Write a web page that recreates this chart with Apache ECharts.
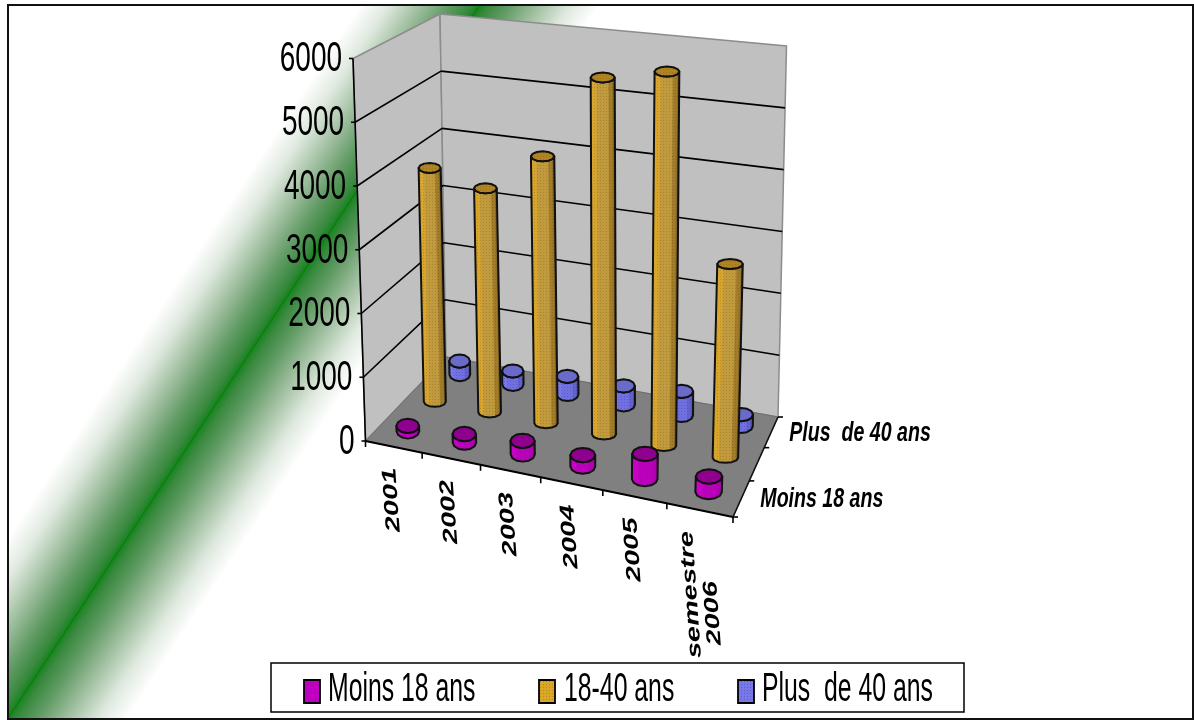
<!DOCTYPE html>
<html>
<head>
<meta charset="utf-8">
<title>Chart</title>
<style>
html,body{margin:0;padding:0;background:#fff;}
#main{width:1194px;height:720px;}
</style>
<script src="https://cdn.jsdelivr.net/npm/echarts@6/dist/echarts.min.js"></script>
</head>
<body>
<div id="main"></div>
<script>
var categories = [['2001'], ['2002'], ['2003'], ['2004'], ['2005'], ['semestre', '2006']];
var yTicks = [0, 1000, 2000, 3000, 4000, 5000, 6000];
var moins18 = [85, 135, 210, 175, 380, 230];
var age1840 = [3850, 3640, 4280, 5650, 5850, 2990];
var plus40 = [230, 225, 300, 310, 390, 190];
var seriesNames = ['Moins 18 ans', '18-40 ans', 'Plus  de 40 ans'];

var FONT = '"Liberation Sans", Arial, sans-serif';

// hidden cartesian box: its axes give the scale, project() puts it in perspective
var box = {left: 100, top: 100, width: 600, height: 400};

// corners of the chart cube on screen: floor and top, front then back
var floorQuad = [[365.5, 441], [733, 517], [778, 417], [446, 357]];
var topQuad = [[353, 58.5], [750, 104], [786.5, 46], [440, 14]];

function homography(q) {
    var dx1 = q[1][0] - q[2][0], dx2 = q[3][0] - q[2][0], sx = q[0][0] - q[1][0] + q[2][0] - q[3][0];
    var dy1 = q[1][1] - q[2][1], dy2 = q[3][1] - q[2][1], sy = q[0][1] - q[1][1] + q[2][1] - q[3][1];
    var den = dx1 * dy2 - dx2 * dy1;
    var g = (sx * dy2 - dx2 * sy) / den, h = (dx1 * sy - sx * dy1) / den;
    return function (u, v) {
        var d = g * u + h * v + 1;
        return [
            ((q[1][0] - q[0][0] + g * q[1][0]) * u + (q[3][0] - q[0][0] + h * q[3][0]) * v + q[0][0]) / d,
            ((q[1][1] - q[0][1] + g * q[1][1]) * u + (q[3][1] - q[0][1] + h * q[3][1]) * v + q[0][1]) / d
        ];
    };
}
var floorH = homography(floorQuad), topH = homography(topQuad);

function project(u, v, w) {
    var a = floorH(u, v), b = topH(u, v);
    return [a[0] + (b[0] - a[0]) * w, a[1] + (b[1] - a[1]) * w];
}
function boxU(pt) { return (pt[0] - box.left) / box.width; }
function boxW(pt) { return (box.top + box.height - pt[1]) / box.height; }

// small dither tile, the bars in the picture have this dotted fill
function dots(base, dot) {
    var c = document.createElement('canvas');
    c.width = 3;
    c.height = 3;
    var ctx = c.getContext('2d');
    ctx.fillStyle = base;
    ctx.fillRect(0, 0, 3, 3);
    ctx.fillStyle = dot;
    ctx.fillRect(0, 0, 1, 1);
    return {image: c, repeat: 'repeat'};
}

var looks = [
    {
        sides: ['#c400c4', '#c800c8', '#bb00bb', '#b000b0', '#9c009c'],
        top: '#8f008f', legend: '#c000c0', depth: 1 / 6, ru: 0.034, ry: 7.2
    },
    {
        sides: [dots('#dba826', '#f0c838'), dots('#d9a52a', '#b98a20'), dots('#c09a3c', '#a8842c'),
            dots('#a27c28', '#8c6a20'), dots('#7a5c20', '#6a501c')],
        top: dots('#b08424', '#9c7420'), legend: dots('#dba826', '#b98a20'), depth: 0.5, ru: 0.034, ry: 5
    },
    {
        sides: [dots('#7c7cec', '#6464d4'), dots('#7878e8', '#6060d0'), dots('#7070e0', '#5c5cc8'),
            dots('#6262cc', '#5050b8'), dots('#5050ac', '#444498')],
        top: '#6a6ac8', legend: dots('#7878e8', '#5c5cc8'), depth: 5 / 6, ru: 0.033, ry: 6.6
    }
];

function poly(points, style) {
    return {type: 'polygon', shape: {points: points}, style: style};
}
function line(a, b, color, width) {
    return {
        type: 'line',
        shape: {x1: a[0], y1: a[1], x2: b[0], y2: b[1]},
        style: {stroke: color, lineWidth: width}
    };
}

function renderWalls(params, api) {
    var kids = [];
    var fl = project(0, 0, 0), fr = project(1, 0, 0), br = project(1, 1, 0), bl = project(0, 1, 0);
    var flT = project(0, 0, 1), brT = project(1, 1, 1), blT = project(0, 1, 1);
    var grey = {stroke: '#8c8c8c', lineWidth: 1.5};
    kids.push(poly([fl, flT, blT, bl], {fill: '#c0c0c0', stroke: grey.stroke, lineWidth: grey.lineWidth}));
    kids.push(poly([bl, blT, brT, br], {fill: '#c0c0c0', stroke: grey.stroke, lineWidth: grey.lineWidth}));
    kids.push(poly([fl, fr, br, bl], {fill: '#808080', stroke: '#6e6e6e', lineWidth: 1}));

    yTicks.forEach(function (t) {
        var w = boxW(api.coord([0, t]));
        var a = project(0, 0, w), b = project(0, 1, w), c = project(1, 1, w);
        if (t > 0 && t < 6000) {
            kids.push(line(a, b, '#000', 1.6));
            kids.push(line(b, c, '#000', 1.6));
        }
        kids.push(line([a[0] - 4, a[1]], a, '#000', 1.6));
        kids.push({
            type: 'text',
            x: a[0] - 11,
            y: a[1] + 1,
            scaleX: 0.65,
            style: {text: String(t), font: '43px ' + FONT, fill: '#000', textAlign: 'right', textVerticalAlign: 'middle'}
        });
    });

    kids.push(line(fl, flT, '#000', 1.6));
    kids.push(line(fl, fr, '#000', 2));
    kids.push(line(fr, br, '#111', 1.6));

    // ticks along the front edge, one label per band
    categories.forEach(function (cat, i) {
        var p = project((i + 1) / categories.length, 0, 0);
        kids.push(line(p, [p[0], p[1] + 6], '#000', 1.6));
        var mid = project(boxU(api.coord([i, 0])), 0, 0);
        cat.forEach(function (txt, j) {
            // second line starts lower: it was centred against a longer first line
            kids.push({
                type: 'text',
                x: mid[0] + (cat.length > 1 ? (j ? 11 : -13) : -4),
                y: mid[1] + 21 + (j ? 50 : 0),
                rotation: Math.PI / 2 + 0.07,
                scaleX: 1.45,
                style: {text: txt, font: 'italic bold 20px ' + FONT, fill: '#000', textAlign: 'right', textVerticalAlign: 'middle'}
            });
        });
    });
    kids.push(line(fl, [fl[0], fl[1] + 6], '#000', 1.6));

    // depth axis: three bands, the middle name is not printed
    [0, 1, 2, 3].forEach(function (k) {
        var p = project(1, k / 3, 0);
        kids.push(line(p, [p[0] + 5, p[1]], '#000', 1.6));
    });
    [0, 2].forEach(function (s) {
        var p = project(1, looks[s].depth, 0);
        kids.push({
            type: 'text',
            x: p[0] + 18 + (s ? 0 : 1),
            y: p[1] + 1,
            scaleX: 0.7,
            style: {text: seriesNames[s], font: 'italic bold 28px ' + FONT, fill: '#000', textAlign: 'left', textVerticalAlign: 'middle'}
        });
    });
    return {type: 'group', children: kids};
}

function cylinder(look) {
    return function (params, api) {
        var pt = api.coord([api.value(0), api.value(1)]);
        var cu = boxU(pt), w = boxW(pt), cv = look.depth;
        // width follows the floor perspective, the ellipse itself stays level on screen
        var l = project(cu - look.ru, cv, 0), r = project(cu + look.ru, cv, 0);
        var rx = Math.abs(r[0] - l[0]) / 2;
        var c0 = project(cu, cv, 0), c1 = project(cu, cv, w);
        var n = 12, base = [], top = [], k;
        for (k = 0; k <= n; k++) {
            var t = k / n * Math.PI * 2;
            var dx = rx * Math.cos(t), dy = -look.ry * Math.sin(t);
            base.push([c0[0] + dx, c0[1] + dy]);
            top.push([c1[0] + dx, c1[1] + dy]);
        }
        var kids = [], lower = [], upper = [];
        for (k = n / 2; k < n; k++) {
            // the half from left to right along the bottom is the side facing us
            var pos = (k - n / 2 + 0.5) / (n / 2);
            var shade = look.sides[Math.min(look.sides.length - 1, Math.floor(pos * look.sides.length))];
            kids.push(poly([base[k], base[k + 1], top[k + 1], top[k]], {fill: shade, stroke: shade, lineWidth: 0.5}));
        }
        for (k = n / 2; k <= n; k++) {
            lower.push(base[k]);
            upper.unshift(top[k]);
        }
        kids.push(poly(lower.concat(upper), {fill: 'none', stroke: '#111', lineWidth: 2, lineJoin: 'round'}));
        kids.push(poly(top.slice(0, n), {fill: look.top, stroke: '#111', lineWidth: 2, lineJoin: 'round'}));
        return {type: 'group', children: kids};
    };
}

function toData(values) {
    return values.map(function (v, i) { return [i, v]; });
}

// band crossing the frame, built across the diagonal
var bandStops = [
    {offset: 0, color: '#ffffff'},
    {offset: 0.12, color: '#dfe9df'},
    {offset: 0.27, color: '#98ba98'},
    {offset: 0.38, color: '#5f9a63'},
    {offset: 0.46, color: '#3a8a3f'},
    {offset: 0.495, color: '#1c8424'},
    {offset: 0.5, color: '#008000'},
    {offset: 0.505, color: '#1c8424'},
    {offset: 0.54, color: '#3a8a3f'},
    {offset: 0.62, color: '#5f9a63'},
    {offset: 0.73, color: '#98ba98'},
    {offset: 0.88, color: '#dfe9df'},
    {offset: 1, color: '#ffffff'}
];

var legendSlots = [
    {icon: 304, text: 328},
    {icon: 539, text: 564},
    {icon: 738, text: 762}
];
var legendKids = [{
    type: 'rect',
    shape: {x: 271, y: 663, width: 693, height: 49},
    style: {fill: '#fff', stroke: '#000', lineWidth: 1.5}
}];
seriesNames.forEach(function (name, i) {
    legendKids.push({
        type: 'rect',
        shape: {x: legendSlots[i].icon, y: 680, width: 16, height: 23},
        style: {fill: looks[i].legend, stroke: '#000', lineWidth: 1.8}
    });
    legendKids.push({
        type: 'text',
        x: legendSlots[i].text,
        y: 690,
        scaleX: 0.62,
        style: {text: name, font: '40px ' + FONT, fill: '#000', textAlign: 'left', textVerticalAlign: 'middle'}
    });
});

var myChart = echarts.init(document.getElementById('main'), null, {renderer: 'canvas'});
var option = {
    animation: false,
    backgroundColor: '#fff',
    grid: {left: box.left, top: box.top, width: box.width, height: box.height},
    xAxis: {type: 'category', show: false, data: categories.map(function (c) { return c.join(' '); })},
    yAxis: {type: 'value', show: false, min: 0, max: 6000, interval: 1000},
    graphic: [
        {
            type: 'rect',
            z: -10,
            shape: {x: 8, y: 5, width: 1185, height: 714},
            style: {
                fill: {
                    type: 'linear', global: true,
                    x: 245 - 100 * 0.834, y: 360 - 100 * 0.552,
                    x2: 245 + 100 * 0.834, y2: 360 + 100 * 0.552,
                    colorStops: bandStops
                },
                stroke: '#111',
                lineWidth: 2
            }
        },
        {type: 'group', z: 100, children: legendKids}
    ],
    series: [
        {type: 'custom', name: 'axes', silent: true, z: 1, renderItem: renderWalls, data: [[0, 0]], encode: {x: 0, y: 1}},
        {type: 'custom', name: seriesNames[2], silent: true, z: 2, renderItem: cylinder(looks[2]), data: toData(plus40), encode: {x: 0, y: 1}},
        {type: 'custom', name: seriesNames[1], silent: true, z: 3, renderItem: cylinder(looks[1]), data: toData(age1840), encode: {x: 0, y: 1}},
        {type: 'custom', name: seriesNames[0], silent: true, z: 4, renderItem: cylinder(looks[0]), data: toData(moins18), encode: {x: 0, y: 1}}
    ]
};
myChart.setOption(option);
</script>
</body>
</html>
